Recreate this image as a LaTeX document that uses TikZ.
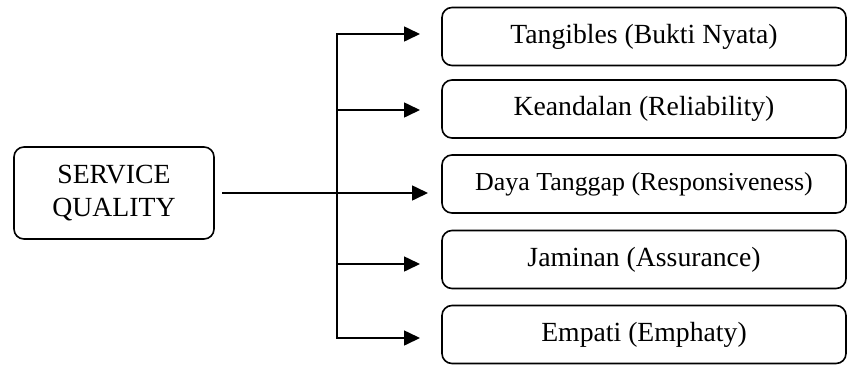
\documentclass[tikz,border=0pt]{standalone}
\usepackage{fontspec}
\setmainfont{Liberation Serif}
\usetikzlibrary{arrows.meta}

\begin{document}
\begin{tikzpicture}[x=1pt,y=-1pt,
box/.style={draw,rectangle,rounded corners=10pt,line width=1.6pt,minimum width=404pt,minimum height=58pt,inner sep=0pt,outer sep=0pt,font=\fontsize{27.7}{33}\selectfont},
arr/.style={line width=1.6pt,-{Triangle[length=16pt,width=15pt]},shorten >=22pt}]
\useasboundingbox (0,0) rectangle (849,365);
\node (sq) [box,minimum width=200pt,minimum height=92pt,align=center] at (114,193) {SERVICE\\QUALITY};
\node (tang) [box] at (644,36.5) {Tangibles (Bukti Nyata)};
\node (keand) [box] at (644,109) {Keandalan (Reliability)};
\node (daya) [box,font=\fontsize{25.9}{31}\selectfont] at (644,184) {Daya Tanggap (Responsiveness)};
\node (jamin) [box] at (644,259.5) {Jaminan (Assurance)};
\node (empat) [box] at (644,334.5) {Empati (Emphaty)};
\coordinate (b1) at (337,34);
\coordinate (b2) at (337,110);
\coordinate (b4) at (337,264);
\coordinate (b5) at (337,338);
\draw[line width=1.6pt,line cap=rect] (b1) -- (b5);
\foreach \c/\n in {b1/tang,b2/keand,b4/jamin,b5/empat}
  \draw[arr] (\c) -- (\c -| \n.west);
\draw[arr] ([xshift=8pt]sq.east) -- ([xshift=8pt]sq.east -| daya.west);
\end{tikzpicture}
\end{document}
